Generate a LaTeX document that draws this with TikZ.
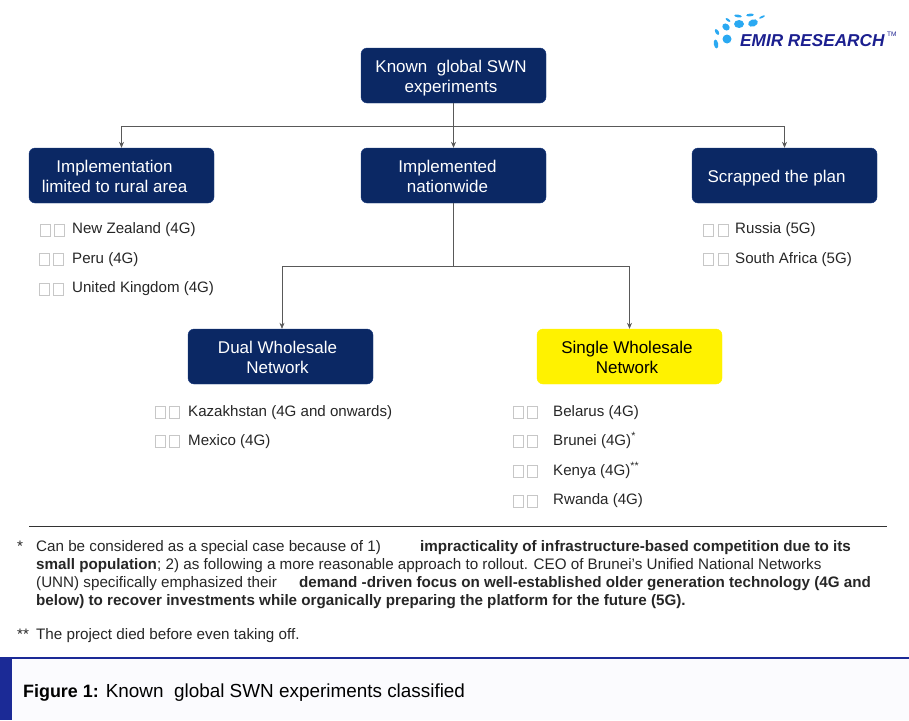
\documentclass[tikz,border=0pt]{standalone}
\usepackage{fontspec}
\setmainfont{Liberation Sans}
\usetikzlibrary{arrows.meta, positioning}
\definecolor{navyfill}{HTML}{0B2864}
\definecolor{navyline}{HTML}{1A3A80}
\definecolor{swnyellow}{HTML}{FFF200}
\definecolor{logoblue}{HTML}{2AA9F2}
\definecolor{logotext}{HTML}{1B1F8F}
\definecolor{barblue}{HTML}{1B2A96}
\definecolor{capfill}{HTML}{FBFBFE}
\newcommand{\boxlabel}[2]{\makebox[0pt]{\hspace*{#1pt}\raisebox{-7.25pt}[0pt][0pt]{\begin{tabular}{@{}c@{}}#2\end{tabular}}}}
\tikzset{
  navybox/.style={rectangle, rounded corners=6pt, draw=navyline, fill=navyfill, text=white, minimum width=185pt, minimum height=55pt, inner sep=0pt, font=\fontsize{17}{20}\selectfont},
  yellowbox/.style={navybox, draw=swnyellow, fill=swnyellow, text=black},
  country/.style={anchor=base west, inner sep=0pt, text=black!85, font=\fontsize{15.1}{18}\selectfont},
  note/.style={anchor=base west, inner sep=0pt, text=black!85, font=\fontsize{15.2}{18}\selectfont},
  boldnote/.style={note, font=\fontsize{15.2}{18}\selectfont\bfseries},
  glyphbox/.style={rectangle, draw=black!22, line width=0.7pt, minimum width=10pt, minimum height=12pt, inner sep=0pt},
  wire/.style={draw=black!65, line width=0.6pt},
  wirearrow/.style={wire, -{Stealth[length=6pt,width=5pt]}},
  logodot/.style={fill=logoblue}
}
\begin{document}
\begin{tikzpicture}[x=1pt, y=-1pt]
\useasboundingbox (0,0) rectangle (909,720);

\fill[capfill] (0,658) rectangle (909,720);
\fill[barblue] (0,658) rectangle (12,720);
\draw[barblue, line width=2pt] (0,658) -- (909,658);

\node[navybox] (known) at (453.5,75.5) {\boxlabel{-5}{Known\ \ global SWN\\experiments}};
\node[navybox] (rural) at (121.5,175.5) {\boxlabel{-14}{Implementation\\limited to rural area}};
\node[navybox] (nationwide) at (453.5,175.5) {\boxlabel{-12}{Implemented\\nationwide}};
\node[navybox] (scrapped) at (784.5,175.5) {\boxlabel{-16}{Scrapped the plan}};
\node[navybox] (dual) at (280.5,356.5) {\boxlabel{-6}{Dual Wholesale\\Network}};
\node[yellowbox] (single) at (629.5,356.5) {\boxlabel{-5}{Single Wholesale\\Network}};

\coordinate (topjoin) at (known.south |- 0,126);
\coordinate (midjoin) at (nationwide.south |- 0,266);
\draw[wire] (known.south) -- (topjoin);
\draw[wirearrow] (topjoin) -| (rural.north);
\draw[wirearrow] (topjoin) -- (nationwide.north);
\draw[wirearrow] (topjoin) -| (scrapped.north);
\draw[wire] (nationwide.south) -- (midjoin);
\draw[wirearrow] (midjoin) -| ([xshift=1.5pt]dual.north);
\draw[wirearrow] (midjoin) -| (single.north);

\foreach \cname/\cx/\cy/\ctext in {
  nz/72/233/New Zealand (4G), peru/72/263/Peru (4G), uk/72/292/United Kingdom (4G),
  russia/735/233/Russia (5G), safrica/735/263/South Africa (5G),
  kaz/188/416/Kazakhstan (4G and onwards), mex/188/445/Mexico (4G),
  belarus/553/416/Belarus (4G), brunei/553/445/Brunei (4G)\textsuperscript{*},
  kenya/553/475/Kenya (4G)\textsuperscript{**}, rwanda/553/504/Rwanda (4G)}
  \node[country] (\cname) at (\cx,\cy) {\ctext};

\foreach \bname/\bx/\by in {
  nza/45/230, nzb/59/230, perua/44/259, perub/58/259, uka/44/289, ukb/58/289,
  russiaa/708/230, russiab/723/230, safricaa/708/259, safricab/723/259,
  kaza/160/412, kazb/174/412, mexa/160/441, mexb/174/441,
  belarusa/518/412, belarusb/532/412, bruneia/518/441, bruneib/532/441,
  kenyaa/518/471, kenyab/532/471, rwandaa/518/501, rwandab/532/501}
  \node[glyphbox] (\bname) at (\bx,\by) {};

\coordinate (ruleleft) at (29,526);
\coordinate (ruleright) at (887,526);
\draw[black!80, line width=1pt] (ruleleft) -- (ruleright);

\node[note] (staronelabel) at (17,551) {*};
\node[note] (linea) at (36,551) {Can be considered as a special case because of 1)};
\node[boldnote] (lineabold) at (420,551) {impracticality of infrastructure-based competition due to its};
\node[boldnote] (linebbold) at (36,569) {small population};
\node[note] (lineb) at (157,569) {; 2) as following a more reasonable approach to rollout. CEO of Brunei's Unified National Networks};
\node[note] (linec) at (36,587) {(UNN) specifically emphasized their};
\node[boldnote] (linecbold) at (299,587) {demand -driven focus on well-established older generation technology (4G and};
\node[boldnote] (lined) at (36,605) {below) to recover investments while organically preparing the platform for the future (5G).};
\node[note] (startwolabel) at (17,639) {**};
\node[note] (linee) at (36,639) {The project died before even taking off.};

\node[anchor=base west, inner sep=0pt, font=\fontsize{18.9}{22}\selectfont] (caption) at (23,697) {{\fontsize{17.9}{22}\selectfont\bfseries Figure 1:} Known\ \ global SWN experiments classified};

\node[anchor=base west, inner sep=0pt, text=logotext, font=\fontsize{17.2}{20}\selectfont\bfseries\itshape] (logo) at (740,46) {EMIR RESEARCH};
\node[anchor=base west, inner sep=0pt, text=logotext, font=\fontsize{6.5}{8}\selectfont] (logotm) at (887,36) {TM};
\foreach \dx/\dy/\drx/\dry/\drot in {
  727/39/4.5/4.5/0, 716/44/2.2/4.5/10, 726/27/4/3.2/-40, 717/32/1.7/3.2/30, 739/24/5/4/0,
  753/23/5/3.5/20, 728/20/2.8/1.2/-35, 738/16/3.8/1.4/-10, 750/15/3.8/1.4/5, 762/17/3.2/1/25}
  \fill[logodot, rotate around={\drot:(\dx,\dy)}] (\dx,\dy) ellipse ({\drx} and {\dry});
\end{tikzpicture}
\end{document}
